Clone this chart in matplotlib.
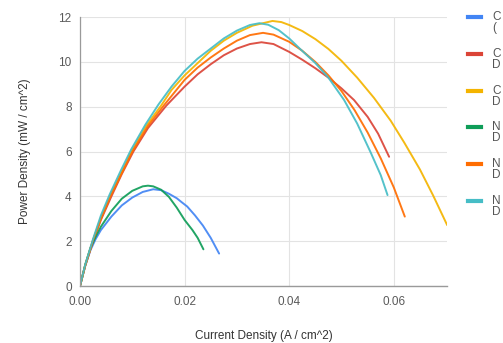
import matplotlib
matplotlib.use("Agg")
import matplotlib.pyplot as plt
from matplotlib.lines import Line2D

plt.rcParams['font.family'] = ['Liberation Sans', 'DejaVu Sans']

# Current density (A/cm^2) and power density (mW/cm^2) for each cell run
ctrl_base_x = [0, 0.001, 0.002, 0.003, 0.004, 0.006, 0.008, 0.010, 0.012, 0.014, 0.0155,
               0.017, 0.0185, 0.0194, 0.0205, 0.022, 0.0235, 0.025, 0.0266]
ctrl_base_y = [0, 0.9, 1.6, 2.1, 2.5, 3.1, 3.6, 3.95, 4.2, 4.32, 4.28,
               4.12, 3.92, 3.75, 3.55, 3.15, 2.7, 2.15, 1.45]

ctrl_d1_x = [0, 0.001, 0.0025, 0.004, 0.006, 0.008, 0.0102, 0.013, 0.0165, 0.02, 0.0225,
             0.025, 0.0275, 0.03, 0.0325, 0.0347, 0.037, 0.04, 0.0425, 0.045, 0.0475,
             0.05, 0.0524, 0.055, 0.057, 0.0591]
ctrl_d1_y = [0, 0.9, 2.0, 2.95, 4.0, 5.0, 6.0, 7.05, 8.05, 8.9, 9.45,
             9.9, 10.3, 10.6, 10.8, 10.88, 10.8, 10.45, 10.1, 9.72, 9.3,
             8.82, 8.3, 7.55, 6.8, 5.77]

ctrl_d2_x = [0, 0.001, 0.0025, 0.004, 0.0058, 0.008, 0.0099, 0.0125, 0.0155, 0.0175, 0.02,
             0.0225, 0.025, 0.0275, 0.03, 0.033, 0.0368, 0.0385, 0.04, 0.0425, 0.045,
             0.0475, 0.05, 0.053, 0.0562, 0.0594, 0.062, 0.065, 0.0675, 0.0702]
ctrl_d2_y = [0, 0.93, 2.05, 3.05, 4.05, 5.1, 6.05, 7.1, 8.05, 8.75, 9.4,
             9.95, 10.5, 10.95, 11.3, 11.62, 11.83, 11.78, 11.65, 11.38, 11.02,
             10.58, 10.05, 9.3, 8.4, 7.38, 6.4, 5.2, 4.05, 2.72]

nacl_base_x = [0, 0.001, 0.002, 0.003, 0.004, 0.006, 0.008, 0.010, 0.012, 0.013, 0.014,
               0.0155, 0.017, 0.0185, 0.02, 0.0215, 0.0225, 0.0236]
nacl_base_y = [0, 0.95, 1.7, 2.2, 2.65, 3.35, 3.9, 4.25, 4.45, 4.48, 4.45,
               4.3, 3.98, 3.5, 2.95, 2.5, 2.15, 1.64]

nacl_d1_x = [0, 0.001, 0.0025, 0.004, 0.0058, 0.008, 0.01, 0.013, 0.016, 0.02, 0.0225,
             0.025, 0.0275, 0.03, 0.0325, 0.035, 0.037, 0.04, 0.0425, 0.045, 0.0475,
             0.05, 0.0525, 0.055, 0.0575, 0.06, 0.0621]
nacl_d1_y = [0, 0.92, 2.05, 3.0, 4.0, 5.05, 6.0, 7.15, 8.05, 9.2, 9.75,
             10.2, 10.6, 10.95, 11.2, 11.3, 11.22, 10.9, 10.5, 10.0, 9.4,
             8.7, 7.85, 6.85, 5.7, 4.4, 3.1]

nacl_d2_x = [0, 0.001, 0.0025, 0.004, 0.0057, 0.0078, 0.0098, 0.0125, 0.015, 0.0175, 0.02,
             0.0225, 0.025, 0.0275, 0.03, 0.0325, 0.0343, 0.036, 0.038, 0.040, 0.042,
             0.045, 0.0475, 0.0505, 0.053, 0.0556, 0.0575, 0.0588]
nacl_d2_y = [0, 0.95, 2.1, 3.15, 4.1, 5.15, 6.1, 7.2, 8.1, 8.9, 9.6,
             10.15, 10.6, 11.05, 11.4, 11.65, 11.73, 11.66, 11.42, 11.05, 10.6,
             9.95, 9.3, 8.3, 7.25, 5.95, 4.95, 4.06]

# Legend entries: only the leading characters fit before the figure edge
legend_lines = [("C", "("), ("C", "D"), ("C", "D"), ("N", "D"), ("N", "D"), ("N", "D")]
colors = ["#4285F4", "#DB4437", "#F4B400", "#0F9D58", "#FF6D01", "#46BDC6"]

x_ticks = [0.00, 0.02, 0.04, 0.06]
x_tick_labels = ["0.00", "0.02", "0.04", "0.06"]
y_ticks = [0, 2, 4, 6, 8, 10, 12]

series = [(ctrl_base_x, ctrl_base_y), (ctrl_d1_x, ctrl_d1_y), (ctrl_d2_x, ctrl_d2_y),
          (nacl_base_x, nacl_base_y), (nacl_d1_x, nacl_d1_y), (nacl_d2_x, nacl_d2_y)]

fig = plt.figure(figsize=(5.03, 3.43), dpi=100)
ax = fig.add_axes([0.159, 0.166, 0.73, 0.784])

for (xs, ys), c in zip(series, colors):
    ax.plot(xs, ys, color=c, lw=1.4, alpha=0.92,
            solid_capstyle='round', solid_joinstyle='round')

ax.set_xlim(0, 0.0702)
ax.set_ylim(0, 12)
ax.set_xticks(x_ticks)
ax.set_xticklabels(x_tick_labels)
ax.set_yticks(y_ticks)
ax.grid(True, color="#e3e3e3", lw=0.8)
ax.set_axisbelow(True)
for s in ["top", "right"]:
    ax.spines[s].set_visible(False)
ax.spines["left"].set_color("#9a9a9a")
ax.spines["bottom"].set_color("#9a9a9a")
ax.spines["left"].set_linewidth(0.9)
ax.spines["bottom"].set_linewidth(1.0)
ax.tick_params(length=0, labelsize=8.5, labelcolor="#5a5a5a")
ax.tick_params(axis="x", pad=7)
ax.tick_params(axis="y", pad=6)

ax.set_xlabel("Current Density (A / cm^2)", fontsize=8.5, color="#333333", labelpad=16)
ax.set_ylabel("Power Density (mW / cm^2)", fontsize=8.5, color="#333333", labelpad=20)

# Legend down the right margin: colour bar plus two-line caption
leg_top = 1 - 17.3 / 343
step = 36.7 / 343
for i, ((l1, l2), c) in enumerate(zip(legend_lines, colors)):
    yy = leg_top - i * step
    fig.add_artist(Line2D([468 / 503, 481 / 503], [yy, yy], color=c, lw=3,
                          transform=fig.transFigure))
    fig.text(492 / 503, yy, l1, fontsize=8.5, color="#555555", va="center", ha="left")
    fig.text(492 / 503, yy - 11 / 343, l2, fontsize=8.5, color="#555555",
             va="center", ha="left")

fig.savefig("out.png", dpi=100)
